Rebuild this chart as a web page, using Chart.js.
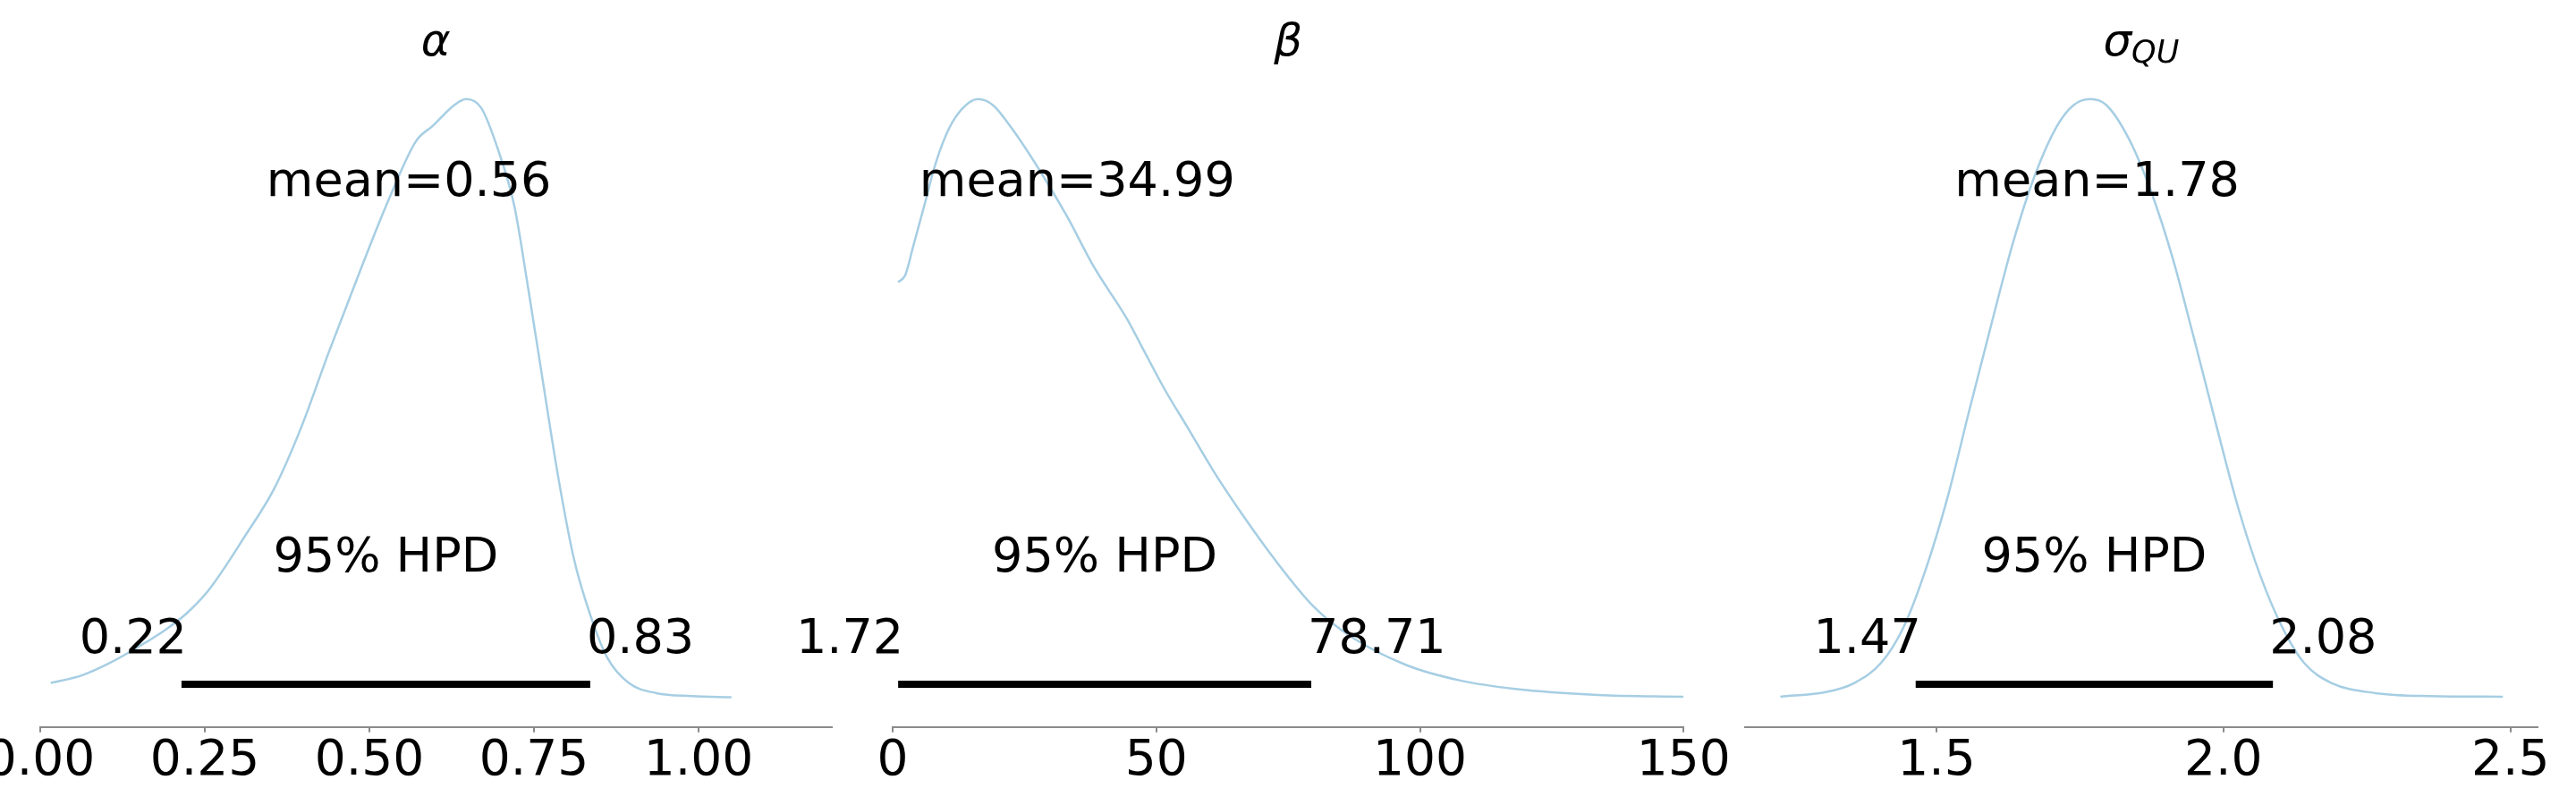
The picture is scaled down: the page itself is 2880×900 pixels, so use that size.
<!DOCTYPE html>
<html><head><meta charset="utf-8">
<script src="https://cdn.jsdelivr.net/npm/chart.js@4.4.0/dist/chart.umd.min.js"></script>
<style>
html,body{margin:0;padding:0;background:#fff;width:2880px;height:900px;overflow:hidden}
#wrap{position:relative;width:2880px;height:900px}
canvas{position:absolute;left:0;top:0}
</style></head><body>
<div id="wrap">
<canvas id="c0" width="2880" height="900"></canvas>
<canvas id="c1" width="2880" height="900"></canvas>
<canvas id="c2" width="2880" height="900"></canvas>
</div>
<script>
// ---- data (normalised posterior density) ----
const alphaX = [0.016,0.064,0.105,0.150,0.189,0.222,0.255,0.313,0.355,0.396,0.438,0.488,0.529,0.571,0.596,0.629,0.647,0.670,0.695,0.720,0.741,0.762,0.787,0.811,0.836,0.861,0.894,0.936,0.990,1.050];
const alphaY = [0.024,0.037,0.057,0.085,0.112,0.140,0.178,0.273,0.348,0.450,0.576,0.719,0.831,0.930,0.955,0.990,1.000,0.985,0.917,0.822,0.685,0.539,0.367,0.230,0.136,0.067,0.024,0.007,0.002,0.000];
const betaX = [1.04,2.4,3.9,6.0,8.1,10.7,13.3,16.2,19.0,22.6,27.8,33.0,38.2,44.4,47.5,51.7,55.8,61.0,66.2,72.5,79.7,87.0,97.4,107.7,118.1,133.7,150];
const betaY = [0.694,0.706,0.754,0.822,0.891,0.951,0.985,1.0,0.990,0.951,0.882,0.805,0.719,0.633,0.582,0.513,0.453,0.376,0.307,0.230,0.153,0.101,0.054,0.028,0.014,0.004,0.001];
const sigmaX = [1.228,1.309,1.357,1.404,1.443,1.481,1.519,1.557,1.596,1.634,1.672,1.710,1.739,1.768,1.796,1.835,1.873,1.911,1.949,1.988,2.026,2.064,2.102,2.140,2.188,2.265,2.360,2.487];
const sigmaY = [0.001,0.009,0.024,0.058,0.118,0.213,0.333,0.479,0.625,0.762,0.874,0.955,0.990,1.0,0.990,0.934,0.848,0.736,0.599,0.453,0.316,0.204,0.118,0.058,0.024,0.007,0.002,0.001];

const titles = ['α','β','σ'];
const titleSubs = ['','','QU'];
const means = [0.56, 34.99, 1.78];
const meanLabels = ['0.56','34.99','1.78'];
const hpdLow = [0.22, 1.72, 1.47];
const hpdHigh = [0.83, 78.71, 2.08];
const hpdLowLabels = ['0.22','1.72','1.47'];
const hpdHighLabels = ['0.83','78.71','2.08'];
const tickSteps = [0.25, 50, 0.5];
const tickDecimals = [2, 0, 1];
const xMins = [0, 0, 1.1665];
const xMaxs = [1.2019, 150, 2.5468];

const xs = [alphaX, betaX, sigmaX];
const ys = [alphaY, betaY, sigmaY];

// ---- layout ----
const W = 2880, H = 900;
const plotLeft = [45, 998, 1951];
const plotRight = [929.6, 1882.3, 2836.7];
const plotTop = 50, axisY = 812.7;
const yMin = -0.0495, yMax = 1.0909;
const MEAN_TXT_Y = 0.838, HPD_TXT_Y = 0.210, VAL_TXT_Y = 0.074, BAR_Y = 0.022;
const FONT = '"DejaVu Sans"';

const annot = {
  id: 'annot',
  afterDatasetsDraw(chart, args, opts) {
    const i = opts.idx;
    const {ctx, chartArea} = chart;
    const x = chart.scales.x, y = chart.scales.y;
    ctx.save();
    ctx.fillStyle = '#000';
    ctx.textBaseline = 'alphabetic';
    ctx.font = '54px ' + FONT;
    ctx.textAlign = 'center';
    ctx.fillText('mean=' + meanLabels[i], x.getPixelForValue(means[i]), y.getPixelForValue(MEAN_TXT_Y));
    ctx.fillText('95% HPD', x.getPixelForValue((hpdLow[i] + hpdHigh[i]) / 2), y.getPixelForValue(HPD_TXT_Y));
    ctx.textAlign = 'right';
    ctx.fillText(hpdLowLabels[i], x.getPixelForValue(hpdLow[i]) + 2, y.getPixelForValue(VAL_TXT_Y));
    ctx.textAlign = 'left';
    ctx.fillText(hpdHighLabels[i], x.getPixelForValue(hpdHigh[i]), y.getPixelForValue(VAL_TXT_Y));
    // title (math style, italic)
    const cx = (chartArea.left + chartArea.right) / 2;
    const mainFont = 'italic 50px ' + FONT, subFont = 'italic 35px ' + FONT;
    ctx.font = mainFont;
    const w1 = ctx.measureText(titles[i]).width;
    ctx.font = subFont;
    const w2 = titleSubs[i] ? ctx.measureText(titleSubs[i]).width : 0;
    const sx = cx - (w1 + w2) / 2;
    ctx.textAlign = 'left';
    ctx.font = mainFont;
    ctx.fillText(titles[i], sx, 62);
    if (titleSubs[i]) {
      ctx.font = subFont;
      ctx.fillText(titleSubs[i], sx + w1, 70);
    }
    ctx.restore();
  }
};

for (let i = 0; i < 3; i++) {
  const pts = xs[i].map((v, k) => ({x: v, y: ys[i][k]}));
  new Chart(document.getElementById('c' + i), {
    type: 'scatter',
    data: {
      datasets: [
        {data: pts, showLine: true, borderColor: '#a6cee3', borderWidth: 2.5, pointRadius: 0,
         fill: false, cubicInterpolationMode: 'monotone'},
        {data: [{x: hpdLow[i], y: BAR_Y}, {x: hpdHigh[i], y: BAR_Y}], showLine: true,
         borderColor: '#000', borderWidth: 8, pointRadius: 0, borderCapStyle: 'square'}
      ]
    },
    options: {
      responsive: false,
      animation: false,
      events: [],
      layout: {padding: {left: plotLeft[i], right: W - plotRight[i], top: plotTop, bottom: 0}},
      plugins: {legend: {display: false}, tooltip: {enabled: false}, title: {display: false}, annot: {idx: i}},
      scales: {
        x: {
          type: 'linear', position: 'bottom', min: xMins[i], max: xMaxs[i],
          grid: {display: true, drawOnChartArea: false, drawTicks: true, tickLength: 6, color: '#8a8a8a', lineWidth: 2},
          border: {display: true, color: '#8a8a8a', width: 2},
          ticks: {stepSize: tickSteps[i], includeBounds: false, autoSkip: false, maxRotation: 0, minRotation: 0,
                  color: '#000', padding: 0, font: {family: 'DejaVu Sans', size: 55},
                  callback: (v) => Number(v).toFixed(tickDecimals[i])},
          afterFit: (s) => { s.height = H - axisY; s.paddingLeft = 0; s.paddingRight = 0; }
        },
        y: {display: false, min: yMin, max: yMax}
      }
    },
    plugins: [annot]
  });
}
</script>
</body></html>
